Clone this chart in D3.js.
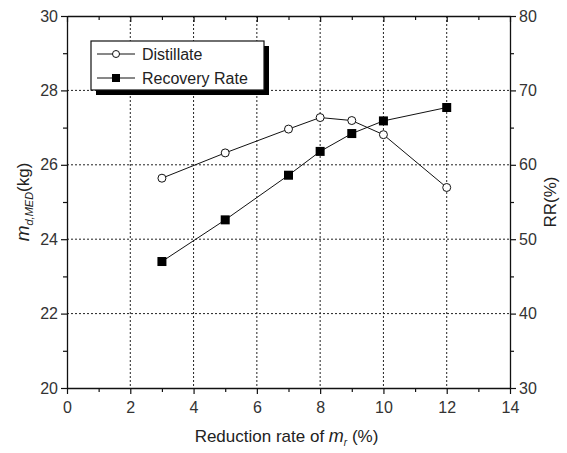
<!DOCTYPE html>
<html>
<head>
<meta charset="utf-8">
<script src="https://cdn.jsdelivr.net/npm/d3@7"></script>
<style>
  body { margin: 0; background: #fff; }
  text { font-family: "Liberation Sans", Arial, sans-serif; fill: #222; }
</style>
</head>
<body>
<div id="chart"></div>
<script>
// data
var reduction = [3, 5, 7, 8, 9, 10, 12];
var distillate = [25.64, 26.32, 26.96, 27.27, 27.19, 26.81, 25.39];
var recovery = [47.0, 52.6, 58.6, 61.8, 64.2, 65.9, 67.7];
var xTicks = [0, 2, 4, 6, 8, 10, 12, 14];
var yLeftTicks = [20, 22, 24, 26, 28, 30];
var yRightTicks = [30, 40, 50, 60, 70, 80];

var W = 567, H = 453;
var margin = { top: 16, right: 57, bottom: 65, left: 67 };
var width = W - margin.left - margin.right,
    height = H - margin.top - margin.bottom;

var svg = d3.select("#chart").append("svg")
    .attr("width", W)
    .attr("height", H);

var g = svg.append("g")
    .attr("transform", "translate(" + margin.left + "," + margin.top + ")");

var x = d3.scaleLinear().domain([0, 14]).range([0, width]);
var yL = d3.scaleLinear().domain([20, 30]).range([height, 0]);
var yR = d3.scaleLinear().domain([30, 80]).range([height, 0]);

// grid
var grid = g.append("g").attr("class", "grid");
grid.selectAll(".vg")
    .data(xTicks.filter(function (d) { return d > 0 && d < 14; }))
    .enter().append("line")
    .attr("x1", function (d) { return x(d); })
    .attr("x2", function (d) { return x(d); })
    .attr("y1", 0).attr("y2", height)
    .style("stroke", "#222").style("stroke-width", 1)
    .style("stroke-dasharray", "2,2");
grid.selectAll(".hg")
    .data(yLeftTicks.filter(function (d) { return d > 20 && d < 30; }))
    .enter().append("line")
    .attr("y1", function (d) { return yL(d); })
    .attr("y2", function (d) { return yL(d); })
    .attr("x1", 0).attr("x2", width)
    .style("stroke", "#222").style("stroke-width", 1)
    .style("stroke-dasharray", "2,2");

// axes
function styleAxis(sel) {
    sel.select(".domain").style("stroke", "#111").style("stroke-width", 1.3);
    sel.selectAll(".tick line").style("stroke", "#111").style("stroke-width", 1.2);
    sel.selectAll("text")
        .style("font-family", '"Liberation Sans", Arial, sans-serif')
        .style("font-size", "16px").style("fill", "#333");
}

var minorX = d3.range(1, 14, 2);
var xAxis = g.append("g")
    .attr("transform", "translate(0," + height + ")")
    .call(d3.axisBottom(x).tickValues(xTicks).tickSize(6).tickSizeOuter(0).tickPadding(8));
styleAxis(xAxis);
g.append("g")
    .attr("transform", "translate(0," + height + ")")
    .call(d3.axisBottom(x).tickValues(minorX).tickSize(4).tickFormat(""))
    .call(function (s) { s.select(".domain").remove(); styleAxis(s); });

var topAxis = g.append("g")
    .call(d3.axisTop(x).tickValues(xTicks).tickSize(-6).tickSizeOuter(0).tickFormat(""));
styleAxis(topAxis);
g.append("g")
    .call(d3.axisTop(x).tickValues(minorX).tickSize(-4).tickFormat(""))
    .call(function (s) { s.select(".domain").remove(); styleAxis(s); });

var leftAxis = g.append("g")
    .call(d3.axisLeft(yL).tickValues(yLeftTicks).tickSize(6).tickSizeOuter(0).tickPadding(3));
styleAxis(leftAxis);
g.append("g")
    .call(d3.axisLeft(yL).tickValues([21, 23, 25, 27, 29]).tickSize(4).tickFormat(""))
    .call(function (s) { s.select(".domain").remove(); styleAxis(s); });

var rightAxis = g.append("g")
    .attr("transform", "translate(" + width + ",0)")
    .call(d3.axisRight(yR).tickValues(yRightTicks).tickSize(6).tickSizeOuter(0).tickPadding(3));
styleAxis(rightAxis);
g.append("g")
    .attr("transform", "translate(" + width + ",0)")
    .call(d3.axisRight(yR).tickValues([35, 45, 55, 65, 75]).tickSize(4).tickFormat(""))
    .call(function (s) { s.select(".domain").remove(); styleAxis(s); });

// lines
var lineL = d3.line()
    .x(function (d, i) { return x(reduction[i]); })
    .y(function (d) { return yL(d); });
var lineR = d3.line()
    .x(function (d, i) { return x(reduction[i]); })
    .y(function (d) { return yR(d); });

g.append("path").datum(distillate)
    .attr("d", lineL)
    .style("fill", "none").style("stroke", "#111").style("stroke-width", 1);
g.append("path").datum(recovery)
    .attr("d", lineR)
    .style("fill", "none").style("stroke", "#111").style("stroke-width", 1);

g.selectAll(".dist")
    .data(distillate)
    .enter().append("circle")
    .attr("cx", function (d, i) { return x(reduction[i]); })
    .attr("cy", function (d) { return yL(d); })
    .attr("r", 4)
    .style("fill", "#fff").style("stroke", "#111").style("stroke-width", 1);

g.selectAll(".rec")
    .data(recovery)
    .enter().append("rect")
    .attr("x", function (d, i) { return x(reduction[i]) - 4.5; })
    .attr("y", function (d) { return yR(d) - 4.5; })
    .attr("width", 9).attr("height", 9)
    .style("fill", "#000");

// legend
var lg = svg.append("g").attr("transform", "translate(91,41)");
lg.append("rect").attr("x", 5).attr("y", 5).attr("width", 173).attr("height", 49).style("fill", "#000");
lg.append("rect").attr("x", 0).attr("y", 0).attr("width", 173).attr("height", 49)
    .style("fill", "#fff").style("stroke", "#111").style("stroke-width", 1.2);
lg.append("line").attr("x1", 6).attr("x2", 44).attr("y1", 13).attr("y2", 13).style("stroke", "#111");
lg.append("circle").attr("cx", 25).attr("cy", 13).attr("r", 3.5)
    .style("fill", "#fff").style("stroke", "#111");
lg.append("line").attr("x1", 6).attr("x2", 44).attr("y1", 37).attr("y2", 37).style("stroke", "#111");
lg.append("rect").attr("x", 21).attr("y", 33).attr("width", 8).attr("height", 8).style("fill", "#000");
lg.append("text").attr("x", 51).attr("y", 19).style("font-size", "16px").text("Distillate");
lg.append("text").attr("x", 51).attr("y", 43).style("font-size", "16px").text("Recovery Rate");

// axis titles
var yt = svg.append("text")
    .attr("transform", "translate(29," + (margin.top + height / 2) + ") rotate(-90)")
    .style("text-anchor", "middle")
    .style("font-size", "17px");
yt.append("tspan").style("font-style", "italic").style("font-size", "19px").text("m");
yt.append("tspan").attr("dy", 4).style("font-style", "italic").style("font-size", "11px").text("d,MED");
yt.append("tspan").attr("dy", -4).text("(kg)");

svg.append("text")
    .attr("transform", "translate(556," + (margin.top + height / 2) + ") rotate(-90)")
    .style("text-anchor", "middle")
    .style("font-size", "17px")
    .text("RR(%)");

var xt = svg.append("text")
    .attr("x", margin.left + width / 2 - 2)
    .attr("y", 442)
    .style("text-anchor", "middle")
    .style("font-size", "17px");
xt.append("tspan").text("Reduction rate of ");
xt.append("tspan").style("font-style", "italic").style("font-size", "18px").text("m");
xt.append("tspan").attr("dy", 4).style("font-style", "italic").style("font-size", "10px").text("r");
xt.append("tspan").attr("dy", -4).text(" (%)");
</script>
</body>
</html>
